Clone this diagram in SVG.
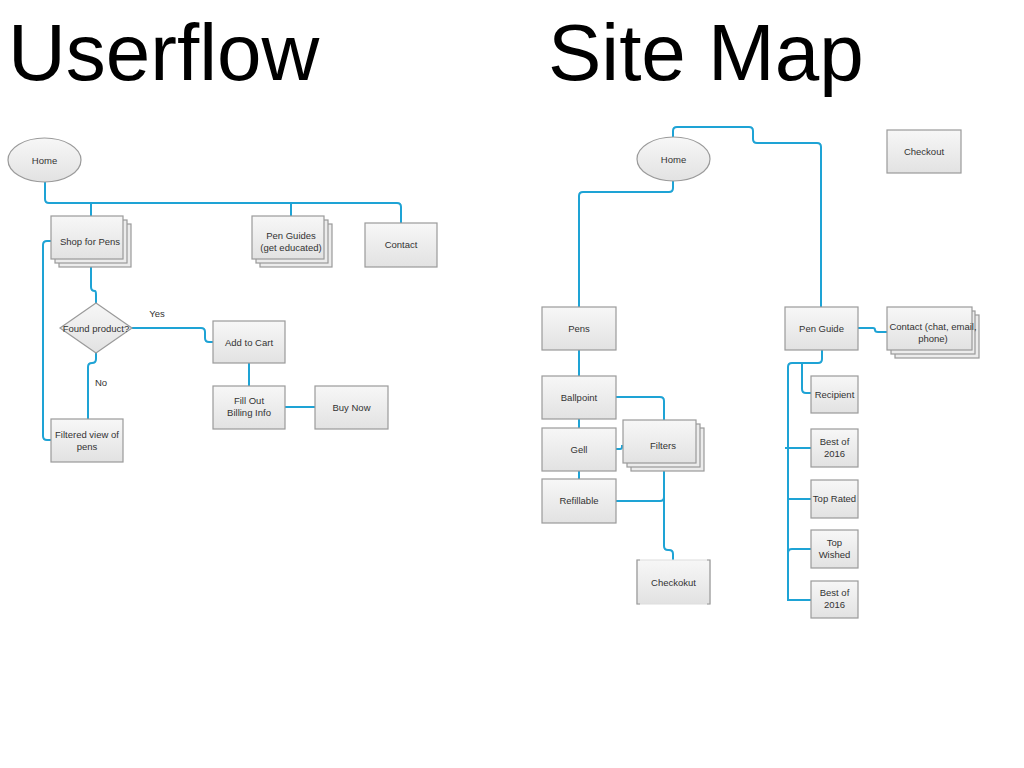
<svg xmlns="http://www.w3.org/2000/svg" width="1024" height="768" viewBox="0 0 1024 768">
<defs>
<linearGradient id="g" x1="0" y1="0" x2="0" y2="1">
<stop offset="0" stop-color="#f7f7f7"/>
<stop offset="1" stop-color="#e2e2e2"/>
</linearGradient>
<style>
.box{fill:url(#g);stroke:#9a9a9a;stroke-width:1.2}
.back{fill:#ececec;stroke:#9a9a9a;stroke-width:1.2}
.lbl{font-family:"Liberation Sans",Arial,sans-serif;font-size:9.5px;fill:#333;text-anchor:middle}
.title{font-family:"Liberation Sans",Arial,sans-serif;font-size:80px;fill:#000}
.c{fill:none;stroke:#1ea3d5;stroke-width:2}
</style>
</defs>
<rect width="1024" height="768" fill="#fff"/>
<text class="title" x="8" y="80">Userflow</text>
<text class="title" x="548" y="80">Site Map</text>

<g id="connectors">
<path class="c" d="M45,182 V199 q0,4 4,4 H397 q4,0 4,4 V223"/>
<path class="c" d="M91,203 V216"/>
<path class="c" d="M291,203 V216"/>
<path class="c" d="M51,241 H47 q-4,0 -4,4 V436 q0,4 4,4 H51"/>
<path class="c" d="M91,259 V287 q0,4 4,4 q1,0 1,4 V303"/>
<path class="c" d="M132,328 H201 q4,0 4,4 V338 q0,4 4,4 H213"/>
<path class="c" d="M96,353 V359 q0,4 -4,4 q-4,0 -4,4 V419"/>
<path class="c" d="M249,363 V386"/>
<path class="c" d="M285,407 H315"/>
<path class="c" d="M673,137 V131 q0,-4 4,-4 H749 q4,0 4,4 V139 q0,4 4,4 H817 q4,0 4,4 V307"/>
<path class="c" d="M673,181 V188 q0,4 -4,4 H583 q-4,0 -4,4 V307"/>
<path class="c" d="M858,328 H873 q2,0 2,2 q0,2 3,2 H887"/>
<path class="c" d="M579,350 V376"/>
<path class="c" d="M579,419 V428"/>
<path class="c" d="M579,471 V479"/>
<path class="c" d="M616,397 H660 q4,0 4,4 V420"/>
<path class="c" d="M616,449 H620 q2,0 2,-2 V446 H623"/>
<path class="c" d="M664,471 V546 q0,4 4,4 h1 q4,0 4,4 V560"/>
<path class="c" d="M616,501 H660 q4,0 4,-4"/>
<path class="c" d="M822,350 V359 q0,4 -4,4 H792 q-4,0 -4,4 V600 H811"/>
<path class="c" d="M802,363 V389 q0,4 4,4 H811"/>
<path class="c" d="M785,448 H811"/>
<path class="c" d="M788,499 H811"/>
<path class="c" d="M788,553 q0,-4 4,-4 H811"/>
</g>

<g id="uf-home">
<ellipse class="box" cx="44.5" cy="160" rx="36.5" ry="22"/>
<text class="lbl" x="44.5" y="163.5">Home</text>
</g>
<g id="uf-shop">
<rect class="back" x="59" y="224" width="72" height="43"/>
<rect class="back" x="55" y="220" width="72" height="43"/>
<rect class="box" x="51" y="216" width="72" height="43"/>
<text class="lbl" x="90" y="245">Shop for Pens</text>
</g>
<g id="uf-guides">
<rect class="back" x="260" y="224" width="72" height="43"/>
<rect class="back" x="256" y="220" width="72" height="43"/>
<rect class="box" x="252" y="216" width="72" height="43"/>
<text class="lbl" x="291" y="239">Pen Guides</text>
<text class="lbl" x="291" y="251">(get educated)</text>
</g>
<g id="uf-contact">
<rect class="box" x="365" y="223" width="72" height="44"/>
<text class="lbl" x="401" y="248">Contact</text>
</g>
<g id="uf-found">
<polygon class="box" points="96,303 132,328 96,353 60,328"/>
<text class="lbl" x="96" y="331.5">Found product?</text>
</g>
<text class="lbl" x="157" y="317">Yes</text>
<text class="lbl" x="101" y="385.5">No</text>
<g id="uf-cart">
<rect class="box" x="213" y="321" width="72" height="42"/>
<text class="lbl" x="249" y="345.5">Add to Cart</text>
</g>
<g id="uf-billing">
<rect class="box" x="213" y="386" width="72" height="43"/>
<text class="lbl" x="249" y="404">Fill Out</text>
<text class="lbl" x="249" y="416">Billing Info</text>
</g>
<g id="uf-buy">
<rect class="box" x="315" y="386" width="73" height="43"/>
<text class="lbl" x="351.5" y="410.5">Buy Now</text>
</g>
<g id="uf-filtered">
<rect class="box" x="51" y="419" width="72" height="43"/>
<text class="lbl" x="87" y="438">Filtered view of</text>
<text class="lbl" x="87" y="450">pens</text>
</g>

<g id="sm-home">
<ellipse class="box" cx="673.5" cy="159" rx="36.5" ry="22"/>
<text class="lbl" x="673.5" y="162.5">Home</text>
</g>
<g id="sm-checkout">
<rect class="box" x="887" y="130" width="74" height="43"/>
<text class="lbl" x="924" y="155">Checkout</text>
</g>
<g id="sm-pens">
<rect class="box" x="542" y="307" width="74" height="43"/>
<text class="lbl" x="579" y="332">Pens</text>
</g>
<g id="sm-penguide">
<rect class="box" x="785" y="307" width="73" height="43"/>
<text class="lbl" x="821.5" y="332">Pen Guide</text>
</g>
<g id="sm-contact">
<rect class="back" x="895" y="315" width="84" height="43"/>
<rect class="back" x="891" y="311" width="84" height="43"/>
<rect class="box" x="887" y="307" width="85" height="43"/>
<text class="lbl" x="933" y="330">Contact (chat, email,</text>
<text class="lbl" x="933" y="342">phone)</text>
</g>
<g id="sm-ballpoint">
<rect class="box" x="542" y="376" width="74" height="43"/>
<text class="lbl" x="579" y="400.5">Ballpoint</text>
</g>
<g id="sm-gell">
<rect class="box" x="542" y="428" width="74" height="43"/>
<text class="lbl" x="579" y="452.5">Gell</text>
</g>
<g id="sm-refillable">
<rect class="box" x="542" y="479" width="74" height="44"/>
<text class="lbl" x="579" y="504">Refillable</text>
</g>
<g id="sm-filters">
<rect class="back" x="631" y="428" width="73" height="43"/>
<rect class="back" x="627" y="424" width="73" height="43"/>
<rect class="box" x="623" y="420" width="73" height="43"/>
<text class="lbl" x="663" y="449">Filters</text>
</g>
<g id="sm-checkokut">
<rect x="637" y="560" width="73" height="44" fill="url(#g)" stroke="#dedede" stroke-width="1"/>
<path d="M640,560 H637 V604 H640 M707,560 H710 V604 H707" fill="none" stroke="#9a9a9a" stroke-width="1.2"/>
<text class="lbl" x="673.5" y="585.5">Checkokut</text>
</g>
<g id="sm-recipient">
<rect class="box" x="811" y="376" width="47" height="37"/>
<text class="lbl" x="834.5" y="397.5">Recipient</text>
</g>
<g id="sm-best1">
<rect class="box" x="811" y="429" width="47" height="38"/>
<text class="lbl" x="834.5" y="444.5">Best of</text>
<text class="lbl" x="834.5" y="456.5">2016</text>
</g>
<g id="sm-toprated">
<rect class="box" x="811" y="480" width="47" height="38"/>
<text class="lbl" x="834.5" y="502">Top Rated</text>
</g>
<g id="sm-topwished">
<rect class="box" x="811" y="530" width="47" height="38"/>
<text class="lbl" x="834.5" y="546">Top</text>
<text class="lbl" x="834.5" y="558">Wished</text>
</g>
<g id="sm-best2">
<rect class="box" x="811" y="581" width="47" height="37"/>
<text class="lbl" x="834.5" y="596">Best of</text>
<text class="lbl" x="834.5" y="608">2016</text>
</g>
</svg>
